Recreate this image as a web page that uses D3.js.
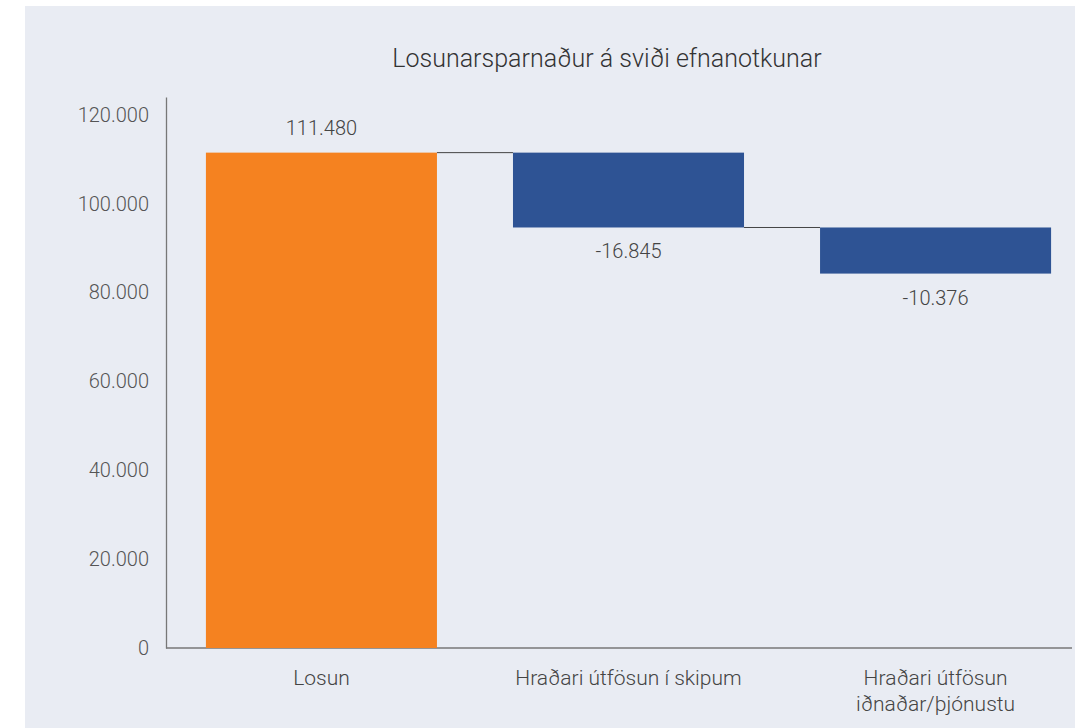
<!DOCTYPE html>
<html>
<head>
<meta charset="utf-8">
<script src="https://cdn.jsdelivr.net/npm/d3@7"></script>
<style>
  body { margin: 0; background: #fff; }
  svg { display: block; font-family: Roboto, "Open Sans", sans-serif; font-weight: 300; }
</style>
</head>
<body>
<script>
// data
var categories = ['Losun', 'Hraðari útfösun í skipum', 'Hraðari útfösun|iðnaðar/þjónustu']
var values = [111480, -16845, -10376]
var yTicks = [0, 20000, 40000, 60000, 80000, 100000, 120000]
var title = 'Losunarsparnaður á sviði efnanotkunar'

var width = 1075
var height = 728

var isl = d3.formatLocale({ decimal: ',', thousands: '.', grouping: [3], currency: ['', ' kr.'], minus: '-' })
var fmt = isl.format(',d')

// running totals for waterfall
var steps = []
var run = 0
values.forEach(function (v, i) {
  var start = i === 0 ? 0 : run
  var end = i === 0 ? v : run + v
  steps.push({ cat: categories[i], value: v, start: start, end: end, first: i === 0 })
  run = end
})

var svg = d3.select('body').append('svg')
  .attr('width', width)
  .attr('height', height)

svg.append('rect')
  .attr('x', 25).attr('y', 6)
  .attr('width', width - 25).attr('height', height - 6)
  .attr('fill', '#e9ecf3')

var x = d3.scaleBand()
  .domain(categories)
  .range([166, 1091])
  .paddingInner(0.2476)
  .paddingOuter(0.13)

var y = d3.scaleLinear()
  .domain([0, 124000])
  .range([648, 97])

// title
svg.append('text')
  .attr('x', 607).attr('y', 67)
  .attr('text-anchor', 'middle')
  .attr('font-size', 25)
  .attr('fill', '#333')
  .text(title)

// y axis
var yAxis = svg.append('g')
  .attr('transform', 'translate(166,0)')
  .call(d3.axisLeft(y).tickValues(yTicks).tickSize(0).tickPadding(17).tickFormat(function (d) { return fmt(d) }))
yAxis.select('.domain').attr('stroke', '#777').attr('stroke-width', 1.3)
yAxis.selectAll('text')
  .attr('font-size', 20)
  .attr('fill', '#555')
  .attr('font-family', 'Roboto, sans-serif')

// baseline
svg.append('line')
  .attr('x1', 166).attr('x2', 1072)
  .attr('y1', y(0)).attr('y2', y(0))
  .attr('stroke', '#777').attr('stroke-width', 1.3)

// connectors
for (var i = 0; i < steps.length - 1; i++) {
  svg.append('line')
    .attr('x1', x(steps[i].cat) + x.bandwidth())
    .attr('x2', x(steps[i + 1].cat))
    .attr('y1', y(steps[i].end))
    .attr('y2', y(steps[i].end))
    .attr('stroke', '#444').attr('stroke-width', 1)
}

// bars
svg.selectAll('.bar')
  .data(steps)
  .enter().append('rect')
  .attr('class', 'bar')
  .attr('x', function (d) { return x(d.cat) })
  .attr('width', x.bandwidth())
  .attr('y', function (d) { return y(Math.max(d.start, d.end)) })
  .attr('height', function (d) { return Math.abs(y(d.start) - y(d.end)) })
  .attr('fill', function (d) { return d.first ? '#f58220' : '#2e5394' })

// value labels
svg.selectAll('.vlab')
  .data(steps)
  .enter().append('text')
  .attr('class', 'vlab')
  .attr('x', function (d) { return x(d.cat) + x.bandwidth() / 2 })
  .attr('y', function (d) {
    return d.value >= 0 ? y(d.end) - 18 : y(d.end) + 31
  })
  .attr('text-anchor', 'middle')
  .attr('font-size', 20)
  .attr('fill', '#444')
  .text(function (d) { return fmt(d.value) })

// category labels
var cl = svg.selectAll('.clab')
  .data(steps)
  .enter().append('text')
  .attr('class', 'clab')
  .attr('text-anchor', 'middle')
  .attr('font-size', 21)
  .attr('fill', '#444')
cl.each(function (d) {
  var lines = d.cat.split('|')
  var t = d3.select(this)
  lines.forEach(function (l, k) {
    t.append('tspan')
      .attr('x', x(d.cat) + x.bandwidth() / 2)
      .attr('y', 685 + k * 26)
      .text(l)
  })
})
</script>
</body>
</html>
